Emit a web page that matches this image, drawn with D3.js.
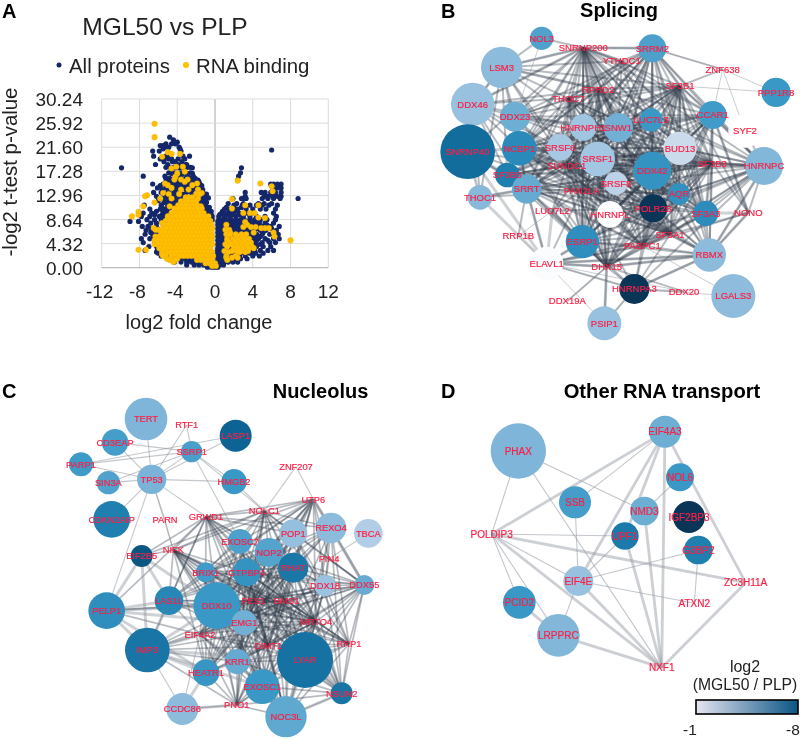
<!DOCTYPE html>
<html><head><meta charset="utf-8">
<script src="https://cdn.jsdelivr.net/npm/d3@7"></script>
<style>html,body{margin:0;padding:0;background:#fff}svg{display:block;font-family:"Liberation Sans",Arial,sans-serif;filter:blur(0.45px)}</style>
</head><body><svg id="c" width="803" height="740"></svg>
<script>
// ---- Panel A data (rows: [-log2 p, [log2 fold change ...]])
const xTicksA=[-12,-8,-4,0,4,8,12];
const yTicksA=[0,4.32,8.64,12.96,17.28,21.6,25.92,30.24];
const navyRows=[
[23.4,[-4.8]],[22.9,[-4.4]],[22.5,[-4.0]],[22.2,[-5.2,-4.6,-4.2]],[21.9,[-5.5,-5.8]],[21.6,[-5.3,-4.9,-3.8]],[21.3,[-5.5,-3.7]],[21.1,[6.0]],[20.9,[-6.6,-3.6,-5.9]],
[20,[-6.5,-5.2,-5.0,-3.4,-2.7]],[19.5,[-5.8,-5.4,-4.9,-4.6,-3.9,-3.2]],[19,[-5.4,-4.5,-4.2,-3.5]],[18.5,[-6.3,-5,-3.9,-3.1,-3.0]],[18,[-5.2,-4.4,-3.6,-2.9,-2.6]],[17.9,[-9.9,-4.7,-4.2,-3.8,-3.3,-2.4,2.8]],
[17,[-4.9,-4.4,-3.6,-3.2,-2.6,2.7]],[16.9,[-4.6,-4.1,-3.8,-3.4,-3,-2.4]],[16.4,[-7.6,-5.3,-4,-3.6,-2.9,-2.3,2.5]],[16,[-5.2,-4.8,-4.3,-3.9,-3.1,-2.5,-2.1]],[15.7,[-5,-4.6,-4.1,-3.4,-2.7,-1.8,2.4]],
[15.4,[-5.2,-4.5,-3.9,-3.5,-2.9,-2.2,-1.7]],[15,[-6.6,-5.5,-4.8,-4.3,-3.7,-3,-2.4,-1.9,-1.6,5.9,6.2,6.6,7.0]],[14.7,[-5.8,-5,-4.6,-4.1,-3.6,-3.1,-2.8,-2.3,-1.8,-1.4]],[14.3,[-6.1,-5.2,-4.5,-3.9,-3.3,-2.6,-2.1,-1.5,6.1,6.6,7]],
[14,[-5.6,-4.8,-4.2,-3.7,-3,-2.8,-2.4,-1.9,-1.3]],[13.5,[-6.5,-5.7,-5,-4.3,-3.7,-3,-2.5,-1.8,-1.3,3.2,4.9,5.3,5.9,6.4,7]],[13.2,[-5.4,-4.6,-4,-3.4,-2.1,-1.6,-1.1,-0.9]],[12.8,[-6.2,-5.4,-4.8,-4.2,-3.5,-2.2,-1.5,-1.2,3.2,5.2,5.6,6.1,6.6,7]],
[12.5,[-5.6,-5,-4.4,-3.8,-2,-1.4,-1,-0.7]],[12.4,[8.8,3.0,1.9,2.8,3.3,5,5.6,6.2,6.9]],[12,[-6,-5.2,-4.6,-4,-1.7,-1.2,-1]],[11.7,[-5.4,-4.8,-4.2,-1.3,-0.9]],[11.5,[1.4,2.3,3,4.6,5.2,6]],
[11.2,[-7.5,-5.7,-5,-4.4,-1.5,-1,2,2.9,3.7,4.4,5,5.7,6.6]],[10.8,[-5.6,-5,-4.6,-1,-0.6,1.2,2,2.8]],[10.5,[-6.9,-5.8,-5.2,-1.2,-0.8,1,1.6,2.4,3.3,4,4.8,5.4,6.4]],[10.1,[-6.2,-5.5,-5,-0.8,-0.4,0.8,1.5,2.2]],
[9.8,[-7.6,-6.7,-5.4,-1,-0.6,0.7,1.3,1.9,2.6,3.4,4.2,6.2]],[9.5,[-6.4,-5.6,-0.4,0.5,1.2,1.8,2.6]],[9.2,[-7.8,-6.9,-5.9,-5.5,-0.6,-0.3,0.4,1,1.6,2.2,3,3.7,4.4,5.3,6.5]],
[8.6,[-7.2,-6.4,-5.7,-0.3,0.4,0.8,1.2,1.7,2.2,2.7,3.1,3.7,4.2,4.8,5.5,6.4]],[8.3,[-9,-8.1,0.3,0.6,1,1.4,1.9,2.4,3.4,4.4]],[8,[-6.8,-6.2,-5.6,0.4,0.8,1.2,1.6,2.1,2.6,3.2,3.6,4.1,4.7,5.3,6.2]],
[7.7,[0.3,0.6,1,1.4,1.8,2.3,2.8,3.8,5.5]],[7.4,[-7.7,-7.1,-6.2,0.4,0.8,1.2,1.6,2,2.5,3,3.5,4,4.5,5,5.9,6.8]],[7,[-6.8,-6.1,0.3,0.6,1,1.4,1.8,2.2,2.7,3.2,4,4.6,5.2,6]],[6.7,[-7.3,-6.4,0.4,0.8,1.2,1.6,2,2.4,2.9,3.5,4.2,4.8,5.4,6.5]],
[6.3,[-6.8,-6.2,0.3,0.6,1,1.4,1.8,2.2,2.6,3.2,3.8,5.1]],[6,[-7.4,-6.6,-6,0.4,0.8,1.2,1.6,2,2.5,3,3.6,4.4,5,5.8,6.7]],[5.6,[-6.5,0.3,0.6,1,1.4,1.8,2.2,2.8,3.3,3.8,4.2,4.8]],[5.2,[-7.8,-6.9,-6.2,0.4,0.8,1.2,1.6,2,2.5,3,3.5,4,4.6,5.3,6.2,6.8]],
[4.9,[0.3,0.6,1,1.4,1.8,2.2,2.7,3.2,3.8,4.4,5.6]],[4.5,[-7.6,-6.4,0.4,0.8,1.2,1.6,2,2.4,2.8,3.2,3.7,4.3,5,5.8,6.4]],[4.2,[0.3,0.6,1,1.4,1.8,2.2,2.6,3,3.4,4,4.8]],[3.8,[-7,-6.2,0.4,0.8,1.2,1.6,2,2.4,2.9,3.4,3.9,4.4,5.1,5.9]],
[3.5,[0.3,0.6,1,1.4,1.8,2.2,2.6,3.1,3.6,4.1]],[3.1,[-7.4,-6.1,-5.3,-4.9,0.3,0.7,1.1,1.5,1.9,2.3,2.8,3.3,3.8,4.2,4.8,5.6,6.2]],[2.8,[-6.2,-5.6,0.3,0.6,1,1.4,1.8,2.4,3,3.5,4.1]],[2.6,[-6,-5.2,-4.6,-4.2,-3.8,0.3,0.7,1.2,1.7,2.2,2.7,3.2,3.7,4.3,5.1]],
[2.1,[-5.7,-4.8,-4.2,-3.7,-3.2,0.3,0.7,1.1,1.6,2,2.6,3.2,4,4.7]],[1.6,[-4.9,-4.3,-3.7,-3.2,-2.7,-2.4,0.3,0.7,1.1,1.6,2.1,2.7,3.4]],
[1,[-4.3,-3.6,-3,-2.5,-2,-1.6,-1.2,0.2,0.6,1,1.4,1.9,2.4]],[0.5,[-3,-2.2,-1.7,-1.2,-0.8,-0.4,0.2,0.5,0.9]],[0.1,[-0.8,-0.4,-0.1,0.1,0.3]]
];
const goldRows=[
[25.8,[-6.4]],[23.4,[-6.4]],[20.7,[-5]],[20.4,[-4.6,-3.7]],[19.9,[-5.6]],[18.1,[-4.1,-3.4]],[17.8,[-4.6]],[17.2,[-3.2]],[16.9,[-4]],[16.3,[-4.2]],[15.8,[-4.3,-3.6,-2.9]],
[15.6,[2.4]],[15.4,[-3.2]],[15.1,[-5.3,-1.9,4.8]],[14.8,[-5,-2.4]],[14.6,[6]],[14.3,[-4.6]],[14,[-3.6,-2.8,-1.8]],[13.7,[6.1]],[13.4,[-5.5,-1.4]],[13.2,[-4.9,-3.8,-2,-1.6]],[13,[-7.2]],[12.8,[-7.4]],
[12.6,[-3.1,-2.8,-2.4]],[12.4,[-5.8,-4.6,-1.8]],[12.3,[1.8]],[11.9,[-3.6,-3.2,-2.8,-2.4,-2]],[11.7,[-6.4]],[11.2,[-3.9,-3.5,-3.1,-2.7,-2.3,-1.9,3.2,4.6]],[11,[-7.6,-4.8,-1.5]],
[10.6,[-4.3,-3.9,-3.4,-3,-2.6,-2.2,-1.8,-1.4,1.8]],[10,[-8.1]],[9.8,[-4.6,-4.2,-3.7,-3.3,-2.9,-2.5,-2.1,-1.7,-1.2,3,3.7,4.2]],[9.5,[-8.1]],
[9.2,[-8.8,-5,-4.5,-4.1,-3.6,-3.2,-2.8,-2.4,-2,-1.6,-1.1,-0.7]],[9,[4.6]],[8.9,[5.3]],[8.4,[-5.2,-4.8,-4.3,-3.9,-3.5,-3,-2.6,-2.2,-1.8,-1.4,-1,-0.5]],[8.2,[3.2]],[8,[-5.6]],
[7.7,[-5.3,-4.9,-4.5,-4,-3.6,-3.2,-2.8,-2.4,-2,-1.6,-1.2,-0.8,-0.4,1.2,3.4]],[7.3,[3,3.8,4.3]],[7.1,[-6.5,-5.5,-5.1,-4.6,-4.2,-3.8,-3.4,-3,-2.6,-2.2,-1.8,-1.4,-1,-0.6,-0.3,4.9,5.3,5.7]],
[6.8,[-6,-6.3,1.1,1.5]],[6.3,[-5.7,-5.2,-4.8,-4.4,-4,-3.6,-3.2,-2.8,-2.4,-2,-1.6,-1.2,-0.8,-0.4,1.6,4.1,6.2]],[6,[1.2,1.6,2.2,2.8,3.3]],[5.6,[-6.3,-5.9,-5.4,-5,-4.6,-4.2,-3.8,-3.4,-3,-2.6,-2.2,-1.8,-1.4,-1,-0.6,-0.3,2.5,2.9,6.3]],[5.2,[1.3,1.9,2.3,2.8,3.2,3.6]],
[4.9,[-6.4,-6,-5.6,-5.2,-4.8,-4.4,-4,-3.6,-3.2,-2.8,-2.4,-2,-1.6,-1.2,-0.8,-0.4,1.3,2.1,2.5,3,3.4,8]],[4.5,[1.5,2.2,2.7,3.2,3.8]],[4.2,[-6.4,-6.1,-5.6,-5.2,-4.7,-4.3,-3.9,-3.5,-3.1,-2.7,-2.3,-1.9,-1.5,-1.1,-0.7,-0.3,1.1,1.7,2.4,2.9,3.5]],[3.8,[1.3,2.3,2.8,3.3,3.9]],
[3.5,[-5.9,-5.4,-4.9,-4.5,-4.1,-3.7,-3.3,-2.9,-2.5,-2.1,-1.7,-1.3,-0.9,-0.5,2,2.5,3,3.6,4.1]],[3.2,[-8.1,-7.3]],[3,[1,1.8,2.3,2.9,3.5]],
[2.8,[-5.6,-5.1,-4.7,-4.3,-3.9,-3.5,-3.1,-2.7,-2.3,-1.9,-1.5,-1.1,-0.7,-0.3,1.4,2.6,3.2]],[2.4,[-5.2,-5.6]],[2.1,[-5.5,-4.6,-4.1,-3.7,-3.3,-2.9,-2.5,-2.1,-1.7,-1.3,-0.9,-0.5,-0.2,1.2,2.2]],[1.8,[1.2,1.8,2.4]],
[1.6,[-5.1,-4.6,-4]],[1.4,[-4.8,-4.2,-1.9,-1.5,-1.1,-0.7,-0.3,1.3]],[1,[-4.4]],[0.8,[-1,-0.6,-0.3,0]],[0.3,[-0.3,0.1]]
];
// ---- Network data: [name, layoutX, layoutY, size, log2 ratio]; size 0 = label only
const bNodes=[
["NOL3",365,115,35,-4.4],["SNRNP200",490,143,0,0],["SRRM2",697,145,42,-4.5],["YTHDC1",605,183,0,0],["LSM3",245,202,62,-3],["ZNF638",908,208,0,0],
["DDX46",158,313,65,-2.6],["DDX23",285,350,45,-3.7],["PPP1R8",1068,277,44,-5],["SF3B1",780,258,0,0],["RPRD2",535,268,0,0],["THOC7",445,295,0,0],
["CCAR1",878,345,42,-4.8],["SYF2",975,393,50,0],["LUC7L3",693,360,35,-5],["HNRNPH1",490,382,40,-2.3],["SNW1",595,383,44,-3.6],["BUD13",780,445,50,-1.2],
["SRSF6",420,442,40,-2.1],["NCBP1",298,445,52,-5.6],["SNRNP40",143,455,82,-6.7],["SF3B5",262,525,37,-6],["SRSF1",533,477,52,-2.2],["HNRNPC",1032,498,57,-3.2],
["SF3B3",877,490,0,0],["SUNDC1",440,498,0,0],["DDX42",697,512,57,-5.2],["SRSF8",588,550,35,-1.6],["SRRT",320,567,44,-3.9],["THOC1",180,592,37,-3.1],
["AQR",777,582,33,-5.3],["PAN2LA",485,572,0,0],["POLR2B",700,625,42,-8],["HNRNPL",570,643,40,0],["LUC7L2",397,632,0,0],["SF3A3",857,640,38,-5.5],
["NONO",985,638,0,0],["RRP1B",295,708,0,0],["ESRP1",487,725,50,-5.4],["SF3A1",750,703,0,0],["PABPC1",667,737,0,0],["RBMX",868,765,50,-3],
["ELAVL1",380,790,50,-0.1],["DHX15",560,800,0,0],["HNRNPA3",643,867,45,-8],["DDX20",792,875,0,0],["LGALS3",940,888,66,-2.9],["DDX19A",442,903,0,0],["PSIP1",553,970,51,-2.6]
];
const bCore=[
["SNRNP200","LSM3 DDX46 DDX23 SRRM2 YTHDC1 THOC7 RPRD2 HNRNPH1 SNW1 SRSF6 NCBP1 SRSF1 SUNDC1 DDX42 SF3B5 SRSF8 SRRT PAN2LA POLR2B HNRNPL LUC7L3 SF3B1 CCAR1 BUD13 AQR SF3A3 SF3A1 PABPC1 DHX15 ESRP1 SF3B3 SNRNP40 HNRNPC NOL3"],
["SF3B1","SRRM2 ZNF638 CCAR1 HNRNPC SNW1 LUC7L3 HNRNPH1 SRSF1 DDX42 BUD13 SF3B3 AQR POLR2B SF3A3 SF3A1 PABPC1 SRSF6 SUNDC1 SRSF8 PAN2LA RPRD2 THOC7 LSM3 DDX23 NCBP1 SRRT HNRNPL NONO RBMX DHX15 ESRP1"],
["SRRM2","THOC7 RPRD2 HNRNPH1 SNW1 SRSF6 SRSF1 SUNDC1 DDX42 SRSF8 PAN2LA POLR2B HNRNPL CCAR1 LUC7L3 BUD13 SF3B3 SF3A3 NCBP1 DDX23 SRRT ESRP1 YTHDC1 ZNF638 HNRNPC AQR"],
["YTHDC1","LSM3 THOC7 RPRD2 SNW1 LUC7L3 SRSF1 CCAR1 DDX42 SF3B3 NCBP1"],
["RPRD2","THOC7 LSM3 DDX46 DDX23 NCBP1 SRSF6 SRSF1 SUNDC1 DDX42 SRSF8 PAN2LA POLR2B HNRNPL CCAR1 BUD13 AQR SF3A3 SF3A1 DHX15 ESRP1 SRRT SF3B3 HNRNPC"],
["THOC7","LSM3 DDX46 DDX23 NCBP1 SRSF6 SRSF1 SUNDC1 DDX42 PAN2LA POLR2B HNRNPL SF3B3 DHX15 ESRP1 SRRT SNW1 BUD13 AQR SF3A1"],
["SUNDC1","DDX23 NCBP1 SF3B5 SRRT SNRNP40 DDX46 LSM3 SNW1 DDX42 BUD13 SF3B3 AQR POLR2B SF3A3 SF3A1 PABPC1 HNRNPL DHX15 ESRP1 LUC7L2 HNRNPC RBMX CCAR1 LUC7L3 PAN2LA HNRNPH1"],
["PAN2LA","NCBP1 SF3B5 SRRT DDX23 SNW1 DDX42 BUD13 SF3B3 AQR SF3A3 SF3A1 PABPC1 DHX15 ESRP1 LUC7L2 HNRNPC RBMX HNRNPA3 ELAVL1 SRSF6 LUC7L3 CCAR1 THOC1 SNRNP40 POLR2B"],
["DHX15","SF3A1 PABPC1 POLR2B HNRNPL ESRP1 ELAVL1 HNRNPA3 DDX42 AQR SF3A3 RBMX SRRT LUC7L2 DDX19A PSIP1 NCBP1 SF3B3 BUD13 SRSF1 HNRNPC DDX20 CCAR1 SF3B5 SRSF6 SRSF8"],
["SF3A1","PABPC1 POLR2B HNRNPL ESRP1 ELAVL1 HNRNPA3 DDX42 AQR SF3A3 RBMX SRRT SF3B3 BUD13 NCBP1 SRSF1 SRSF6 HNRNPC CCAR1 LUC7L3 NONO SF3B5 SRSF8"],
["PABPC1","POLR2B HNRNPL ESRP1 ELAVL1 DDX42 AQR SF3A3 SRRT SF3B3 BUD13 NCBP1 SRSF1 SRSF6 HNRNPC CCAR1 LUC7L3 NONO SF3B5 SNW1"],
["SF3B3","CCAR1 HNRNPC BUD13 DDX42 AQR SF3A3 POLR2B HNRNPL SNW1 LUC7L3 SRSF1 SRSF8 NCBP1 SRRT ESRP1 PABPC1 RBMX NONO SRSF6 DDX23 HNRNPH1 SF3B5"],
["NCBP1","DDX23 DDX46 LSM3 SF3B5 SRRT SRSF6 SRSF1 HNRNPH1 SNW1 DDX42 POLR2B HNRNPL AQR CCAR1 BUD13 LUC7L3 SF3A3 ESRP1 RBMX HNRNPC"],
["DDX42","AQR POLR2B HNRNPL CCAR1 BUD13 SF3A3 SRSF1 SNW1 LUC7L3 HNRNPC RBMX ESRP1 SRRT SF3B5 SRSF6 DDX23"],
["CCAR1","HNRNPC BUD13 LUC7L3 SNW1 AQR SF3A3 POLR2B RBMX ESRP1 SRSF8 NONO HNRNPL SRSF6 DDX23"],
["SNW1","BUD13 AQR SF3A3 POLR2B HNRNPL SRRT SF3B5 ESRP1 LUC7L2 RBMX SRSF8 DDX23"],
["HNRNPH1","BUD13 AQR POLR2B SF3A3 HNRNPL SRRT ESRP1 LUC7L3 SF3B5 DDX23"],
["SRSF1","BUD13 AQR POLR2B SF3A3 HNRNPC SRRT ESRP1 LUC7L3 SF3B5 SRSF6 RBMX"],
["SRSF6","LUC7L3 BUD13 AQR POLR2B SF3A3 SF3B5 SRRT ESRP1 HNRNPL"],
["LUC7L3","BUD13 AQR POLR2B SF3A3 HNRNPL SRRT ESRP1 HNRNPC SF3B5"],
["BUD13","AQR POLR2B SF3A3 HNRNPL SRRT ESRP1 HNRNPC RBMX SF3B5"],
["POLR2B","AQR SF3A3 HNRNPL SRRT ESRP1 SRSF8 SF3B5 LUC7L2"],
["AQR","SF3A3 HNRNPL SRRT ESRP1 HNRNPC SRSF8"],
["HNRNPC","RBMX NONO SF3A3 AQR POLR2B BUD13 ESRP1 HNRNPA3 SYF2"],
["SRRT","SF3B5 DDX23 SNRNP40 THOC1 DDX46 ESRP1 ELAVL1 LUC7L2 RRP1B HNRNPL SRSF8"],
["ESRP1","ELAVL1 HNRNPA3 RBMX LUC7L2 HNRNPL SF3A3"],
["HNRNPA3","PABPC1 RBMX ELAVL1 PSIP1 DDX20 POLR2B"],
["LSM3","DDX46 DDX23 HNRNPH1 SRSF6 SF3B5 THOC1 NOL3"],
["DDX46","DDX23 SF3B5 SNRNP40 SRSF6 HNRNPH1 THOC1"],
["RBMX","PABPC1 POLR2B ELAVL1 SF3A3 NONO AQR"]
];
const bThick=[["LSM3","SNRNP200"],["LSM3","RPRD2"],["SRRM2","SNRNP200"],["SRRM2","SF3B1"],["SNRNP200","YTHDC1"],["DDX46","SNRNP40"],["DDX46","LSM3"],["SNRNP40","SF3B5"],["SNRNP40","NCBP1"],["SNRNP40","THOC1"],["SNRNP40","ELAVL1"],["THOC1","SRRT"],["THOC1","ELAVL1"],["SRRT","ELAVL1"],["ELAVL1","ESRP1"],["ELAVL1","RBMX"],["ELAVL1","DHX15"],["DHX15","PSIP1"],["HNRNPA3","RBMX"],["RBMX","NONO"],["RBMX","HNRNPC"],["HNRNPC","CCAR1"],["HNRNPC","SF3B3"],["NONO","SF3A3"],["NONO","CCAR1"],["SNRNP40","SRRT"],["DDX46","SNRNP200"],["ELAVL1","PABPC1"],["RBMX","DHX15"],["ELAVL1","LUC7L2"]];
const bThin=[["SF3B1","PPP1R8"],["ZNF638","PPP1R8"],["ZNF638","SYF2"],["ZNF638","SRRM2"],["ZNF638","CCAR1"],["ELAVL1","DDX20"],["ELAVL1","RRP1B"],["ELAVL1","HNRNPA3"],["LUC7L2","RRP1B"],["HNRNPA3","LGALS3"],["PABPC1","LGALS3"],["DDX19A","DHX15"],["PSIP1","ELAVL1"],["PSIP1","HNRNPA3"],["THOC1","SNRNP40"],["NOL3","DDX23"]];

const cNodes=[
["TERT",348,147,64,-3.3],["RTF1",470,165,0,0],["LASP1",617,197,48,-7],["CD3EAP",255,217,40,-4.7],["SSRP1",485,245,32,-4.6],["PARP1",153,283,36,-4.9],
["TP53",365,328,44,-3.4],["SIN3A",235,338,35,-4.4],["HMGB2",612,335,38,-5],["ZNF207",798,290,0,0],["UTP6",850,388,0,0],["NOLC1",703,423,0,0],["GRWD1",528,440,0,0],
["PARN",405,450,0,0],["CDKN2AIP",245,448,55,-6],["POP1",790,490,42,-2.7],["REXO4",903,474,46,-3],["TBCA",1015,490,43,-1.8],["EXOSC7",630,514,37,-4.5],["NOP2",717,547,43,-4.3],
["NIFK",430,540,0,0],["EIF2B5",335,558,33,-7.3],["PIN4",897,566,0,0],["RHAT",790,593,45,-6.3],["BRIX1",527,607,30,-4.8],["GTPBP4",650,607,42,-5.2],["DDX18",885,647,32,-2.5],
["DDX55",1003,645,30,-3.8],["LAS1L",417,692,43,-5.7],["DDX10",560,707,70,-5],["PELP1",230,722,55,-5.4],["PES1",670,693,0,0],["BMS1",770,693,0,0],["EMG1",643,758,38,-3.6],
["MRTO4",858,755,0,0],["IMP3",352,840,67,-6.4],["EIF4A2",510,793,0,0],["RRP1",957,822,0,0],["DIMT1",715,828,0,0],["KRR1",622,875,38,-3.9],["LYAR",825,870,84,-6.5],
["HEATR1",528,908,40,-5.1],["EXOSC1",697,950,52,-5],["NSUN2",935,970,33,-6.4],["CCDC86",457,1017,48,-3],["PNO1",620,1005,0,0],["NOC3L",768,1040,62,-4]
];
const cCore=[
["UTP6","NOLC1 GRWD1 POP1 REXO4 EXOSC7 NOP2 RHAT GTPBP4 BRIX1 DDX10 PES1 BMS1 MRTO4 DDX18 NIFK PIN4 EMG1 DIMT1 KRR1 LAS1L"],
["NOLC1","GRWD1 POP1 REXO4 EXOSC7 NOP2 RHAT GTPBP4 BRIX1 DDX10 PES1 BMS1 MRTO4 NIFK EMG1 DDX55 KRR1 DDX18 EIF2B5"],
["GRWD1","EXOSC7 NOP2 POP1 RHAT GTPBP4 BRIX1 DDX10 PES1 BMS1 LAS1L NIFK EMG1 MRTO4 EIF2B5 IMP3 PELP1 REXO4 DIMT1 LYAR"],
["NIFK","BRIX1 GTPBP4 DDX10 PES1 BMS1 MRTO4 DIMT1 EMG1 KRR1 LYAR EXOSC1 NOC3L HEATR1 EIF2B5 LAS1L RRP1"],
["PES1","BMS1 MRTO4 RRP1 DIMT1 EMG1 KRR1 LYAR EXOSC1 NOC3L NSUN2 PNO1 HEATR1 IMP3 LAS1L PELP1 DDX55 DDX18 EIF4A2 GTPBP4 NOP2 RHAT BRIX1 POP1 REXO4"],
["BMS1","MRTO4 RRP1 DIMT1 EMG1 KRR1 LYAR EXOSC1 NOC3L NSUN2 PNO1 HEATR1 IMP3 LAS1L PELP1 DDX55 DDX18 EIF4A2 GTPBP4 RHAT BRIX1 EXOSC7 DDX10"],
["MRTO4","RRP1 DIMT1 EMG1 KRR1 LYAR EXOSC1 NOC3L NSUN2 PNO1 HEATR1 IMP3 DDX55 DDX18 EIF4A2 DDX10 LAS1L BRIX1 GTPBP4 NIFK RHAT NOP2 EXOSC7"],
["DIMT1","RRP1 EMG1 KRR1 EXOSC1 NOC3L NSUN2 PNO1 HEATR1 IMP3 EIF4A2 DDX10 LAS1L DDX55 BRIX1 GTPBP4 RHAT NOP2 EXOSC7 POP1 DDX18"],
["DDX55","REXO4 RHAT NOP2 GTPBP4 DDX10 EMG1 KRR1 LYAR RRP1 NSUN2 NOC3L EXOSC1 EIF4A2 DDX18 PIN4 POP1 BRIX1"],
["DDX18","REXO4 POP1 RHAT NOP2 DDX10 EMG1 KRR1 LYAR RRP1 NSUN2 NOC3L EIF4A2 PIN4 GTPBP4 EXOSC1"],
["RRP1","LYAR NSUN2 NOC3L EXOSC1 EMG1 KRR1 REXO4 RHAT GTPBP4 POP1 DDX10 BRIX1"],
["EIF4A2","IMP3 PELP1 LAS1L HEATR1 KRR1 DDX10 EMG1 BRIX1 GTPBP4 RHAT EXOSC7 EXOSC1 NOC3L PNO1 NOP2 LYAR"],
["PNO1","KRR1 HEATR1 EXOSC1 NOC3L CCDC86 LYAR NSUN2 IMP3 EMG1 GTPBP4 DDX10 BRIX1 RHAT"],
["KRR1","HEATR1 EXOSC1 NOC3L IMP3 EMG1 LYAR NSUN2 GTPBP4 BRIX1 NOP2 RHAT EXOSC7 POP1"],
["NSUN2","LYAR NOC3L EXOSC1 RHAT GTPBP4 NOP2 POP1 EMG1 REXO4"],
["EMG1","RHAT NOP2 EXOSC7 BRIX1 LAS1L HEATR1 EXOSC1 NOC3L POP1 REXO4"],
["DDX10","RHAT NOP2 POP1 REXO4 EXOSC1 NOC3L LYAR HEATR1"],
["GTPBP4","LYAR NOC3L EXOSC1 HEATR1 LAS1L REXO4"],
["BRIX1","LYAR RHAT NOP2 POP1 REXO4 NOC3L EXOSC1 HEATR1"],
["RHAT","LYAR NOC3L EXOSC1 HEATR1 LAS1L"],
["NOP2","LYAR NOC3L EXOSC1 HEATR1 LAS1L"],
["EXOSC7","LYAR NOC3L EXOSC1 HEATR1 LAS1L"],
["REXO4","LYAR NOC3L EXOSC1 HEATR1"]
];
const cThick=[["IMP3","PELP1"],["IMP3","LAS1L"],["IMP3","HEATR1"],["IMP3","DDX10"],["IMP3","EMG1"],["IMP3","EXOSC1"],["IMP3","LYAR"],["PELP1","LAS1L"],["PELP1","DDX10"],["PELP1","HEATR1"],["PELP1","EMG1"],["LAS1L","BRIX1"],["EIF2B5","IMP3"],["EIF2B5","LAS1L"],["EIF2B5","PELP1"],["EIF2B5","DDX10"],["LYAR","NOC3L"],["LYAR","NSUN2"],["NOC3L","NSUN2"],["CCDC86","PNO1"],["CCDC86","HEATR1"],["REXO4","DDX55"],["UTP6","DDX55"],["UTP6","REXO4"],["UTP6","POP1"]];
const cThin=[["TERT","TP53"],["RTF1","SSRP1"],["RTF1","TP53"],["CD3EAP","SSRP1"],["LASP1","PARP1"],["LASP1","TP53"],["PARP1","SSRP1"],["PARP1","TP53"],["SIN3A","TP53"],["SIN3A","SSRP1"],["CD3EAP","TP53"],["TP53","HMGB2"],["SSRP1","HMGB2"],["SSRP1","TP53"],["TP53","CDKN2AIP"],["TP53","PELP1"],["TP53","GRWD1"],["TP53","NIFK"],["SSRP1","NOLC1"],["SSRP1","EXOSC7"],["HMGB2","NOLC1"],["ZNF207","UTP6"],["ZNF207","NOLC1"],["PARN","NIFK"],["PARN","TP53"],["TBCA","PIN4"],["IMP3","CCDC86"],["CCDC86","EIF4A2"]];

const dNodes=[
["PHAX",205,243,83,-3.3],["EIF4A3",645,185,48,-3.7],["NOL6",690,322,42,-5],["SSB",375,397,48,-4.7],["NMD3",583,423,43,-3.7],["IGF2BP3",717,441,48,-8],
["POLDIP3",125,492,0,0],["UPF1",525,498,41,-6.2],["G3BP2",745,540,43,-6],["EIF4E",385,633,45,-2.6],["ZC3H11A",887,638,0,0],["ATXN2",733,700,0,0],
["PCID2",208,697,49,-5],["LRPPRC",325,796,64,-3.2],["NXF1",635,893,0,0]
];
const dThick=[["POLDIP3","EIF4A3"],["POLDIP3","ZC3H11A"],["POLDIP3","NXF1"],["EIF4E","NXF1"],["EIF4E","EIF4A3"],["UPF1","NXF1"],["EIF4A3","NXF1"],["EIF4A3","ZC3H11A"],["NXF1","ZC3H11A"],["EIF4A3","UPF1"],["NMD3","NXF1"],["PCID2","LRPPRC"],["LRPPRC","NXF1"]];
const dThin=[["PHAX","POLDIP3"],["PHAX","NMD3"],["PHAX","NXF1"],["SSB","EIF4A3"],["SSB","EIF4E"],["POLDIP3","UPF1"],["POLDIP3","PCID2"],["POLDIP3","EIF4E"],["EIF4E","UPF1"],["EIF4E","G3BP2"],["EIF4E","ATXN2"],["G3BP2","ATXN2"],["LRPPRC","EIF4E"],["NOL6","NMD3"],["POLDIP3","LRPPRC"]];

const legendTicks=[-1,-8];
const svg=d3.select("#c");
const txt=(x,y,s,size,o={})=>svg.append("text").attr("x",x).attr("y",y).attr("font-size",size).attr("font-weight",o.bold?"bold":null)
  .attr("text-anchor",o.anchor||"middle").attr("fill",o.fill||"#222").attr("transform",o.rot?`rotate(${o.rot} ${x} ${y})`:null).text(s);

// Panel A
const xA=d3.scaleLinear().domain([-12,12]).range([101.7,328.3]);
const yA=d3.scaleLinear().domain([0,30.24]).range([267.7,99]);
const gA=svg.append("g");
gA.selectAll(".gx").data(xTicksA).join("line").attr("x1",d=>xA(d)).attr("x2",d=>xA(d)).attr("y1",yA(30.24)).attr("y2",yA(0))
  .attr("stroke",d=>d===0?"#bcbcbc":"#dcdcdc").attr("stroke-width",d=>d===0?1.3:1);
gA.selectAll(".gy").data(yTicksA).join("line").attr("x1",xA(-12)).attr("x2",xA(12)).attr("y1",d=>yA(d)).attr("y2",d=>yA(d))
  .attr("stroke",d=>d===0?"#bcbcbc":"#dcdcdc").attr("stroke-width",d=>d===0?1.3:1);
const flat=rows=>rows.flatMap(([y,xs])=>xs.map(x=>[x,y]));
gA.selectAll(".n").data(flat(navyRows)).join("circle").attr("cx",d=>xA(d[0])).attr("cy",d=>yA(d[1])).attr("r",2.6).attr("fill","#14276a");
gA.selectAll(".o").data(flat(goldRows)).join("circle").attr("cx",d=>xA(d[0])).attr("cy",d=>yA(d[1])).attr("r",2.8).attr("fill","#ffc000").attr("stroke","#f2a900").attr("stroke-width",.4);
xTicksA.forEach(t=>txt(xA(t)-(t<0?2:0),298,t,19));
yTicksA.forEach(t=>txt(83,yA(t)+7,t.toFixed(2),19,{anchor:"end"}));
txt(165,35,"MGL50 vs PLP",24.6);
svg.append("circle").attr("cx",59).attr("cy",65).attr("r",2.5).attr("fill","#14276a");
txt(69,73,"All proteins",20.4,{anchor:"start"});
svg.append("circle").attr("cx",186).attr("cy",65).attr("r",3).attr("fill","#ffc000");
txt(196,73,"RNA binding",20.4,{anchor:"start"});
txt(199,329,"log2 fold change",20);
txt(17,172,"-log2 t-test p-value",20.4,{rot:-90});
[["A",2,18],["B",441,18],["C",2,398],["D",441,398]].forEach(d=>txt(d[1],d[2],d[0],20,{bold:1,anchor:"start",fill:"#000"}));
txt(619,17,"Splicing",20,{bold:1,fill:"#000"});
txt(320.5,398,"Nucleolus",20,{bold:1,fill:"#000"});
txt(662,398,"Other RNA transport",20.2,{bold:1,fill:"#000"});

// Networks
const color=d3.scaleLinear().domain([0,-1,-2,-3,-4,-5,-6,-7,-8])
  .range(["#ffffff","#d5dfee","#a9c9e4","#8cbbdb","#5fa8d0","#3a98c6","#1f80b0","#0d6494","#0b3557"]);
const expand=list=>list.flatMap(([s,t])=>t.split(" ").map(x=>[s,x]));
function network(nodes,groups,left,right,span,fs){
  const sx=d3.scaleLinear().domain([0,span]).range([left,right]);
  const sy=d3.scaleLinear().domain([0,span]).range([0,right-left]);
  const sr=d3.scaleLinear().domain([0,span]).range([0,right-left]);
  const by=new Map(nodes.map(n=>[n[0],n]));
  const g=svg.append("g").attr("transform",`translate(0,${groups.top})`);
  groups.edges.forEach(({list,w,c,o})=>{
    g.append("g").selectAll("line").data(list.filter(e=>by.has(e[0])&&by.has(e[1]))).join("line")
     .attr("x1",e=>sx(by.get(e[0])[1])).attr("y1",e=>sy(by.get(e[0])[2]))
     .attr("x2",e=>sx(by.get(e[1])[1])).attr("y2",e=>sy(by.get(e[1])[2]))
     .attr("stroke",c).attr("stroke-opacity",o).attr("stroke-width",w);
  });
  const ns=nodes.filter(n=>n[3]>0);
  g.append("g").selectAll("circle").data(ns).join("circle").attr("cx",n=>sx(n[1])).attr("cy",n=>sy(n[2])).attr("r",n=>sr(n[3])).attr("fill",n=>color(n[4]));
  g.append("g").selectAll("text").data(nodes).join("text").attr("x",n=>sx(n[1])).attr("y",n=>sy(n[2])+fs*.36).attr("text-anchor","middle")
    .attr("font-size",fs).attr("fill","#fb2046").attr("stroke","#fb2046").attr("stroke-width",.2).text(n=>n[0]);
}
network(bNodes,{top:0,edges:[{list:bThick,w:3,c:"#a0a6ac",o:.5},{list:expand(bCore),w:2,c:"#2f3c4a",o:.34},{list:bThin,w:1,c:"#8a929a",o:.45}]},420,803,1149,9.5);
network(cNodes,{top:370,edges:[{list:expand(cCore),w:1.7,c:"#2f3c4a",o:.34},{list:cThick,w:3,c:"#8a929a",o:.42},{list:cThin,w:1.1,c:"#8a929a",o:.5}]},30,400,1110,9.3);
network(dNodes,{top:370,edges:[{list:dThick,w:2.8,c:"#9aa0a8",o:.5},{list:dThin,w:1.1,c:"#9aa0a8",o:.6}]},450,803,1059,10);

// Legend
const grad=svg.append("defs").append("linearGradient").attr("id","lg");
grad.append("stop").attr("offset",0).attr("stop-color","#e6e5f1");
grad.append("stop").attr("offset",1).attr("stop-color","#0b5585");
const lx=d3.scaleLinear().domain([-1,-8]).range([696,798]);
svg.append("rect").attr("x",lx(-1)).attr("y",700).attr("width",lx(-8)-lx(-1)).attr("height",14).attr("fill","url(#lg)").attr("stroke","#000").attr("stroke-width",1.6);
txt(745,672,"log2",16);
txt(745,690,"(MGL50 / PLP)",15.7);
txt(690,735,legendTicks[0],15.5);
txt(793,735,legendTicks[1],15.5);
</script></body></html>
